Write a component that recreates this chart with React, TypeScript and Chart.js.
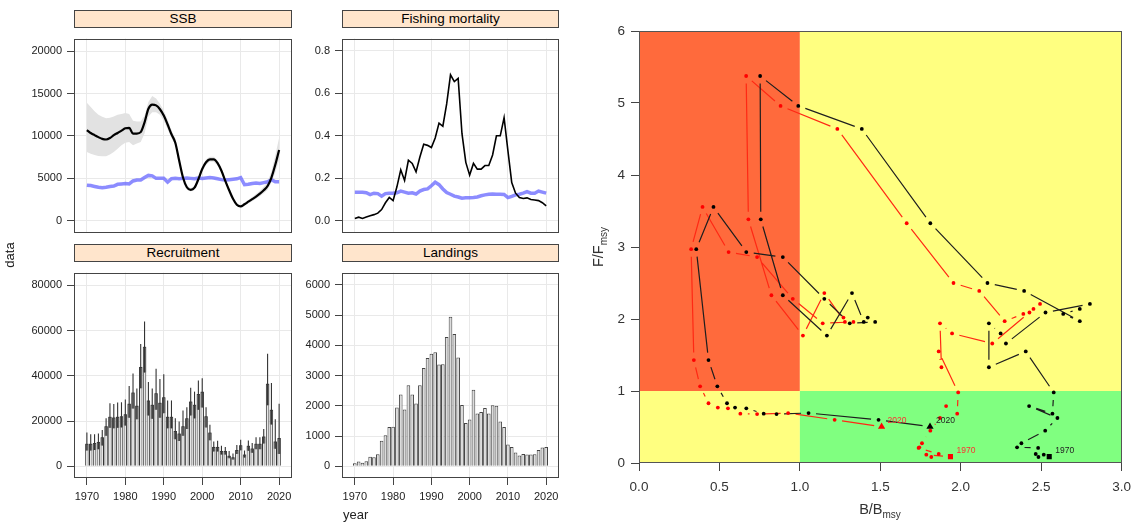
import React, { useEffect, useRef } from "react";
import { Chart, registerables } from "chart.js";
Chart.register(...registerables);

const FONT = "'Liberation Sans', Arial, Helvetica, sans-serif";

// ---------- data ----------
const YEARS = Array.from({ length: 51 }, (_, i) => 1970 + i);
const YEAR_TICKS = [1970, 1980, 1990, 2000, 2010, 2020];

const SSB = [10700, 10350, 10100, 9860, 9650, 9580, 9750, 10100, 10350, 10630,
  10900, 10950, 10280, 10280, 10450, 11600, 13200, 13700, 13600, 13150,
  12400, 11350, 10200, 9200, 7100, 5100, 3950, 3650, 3900, 4900,
  6100, 6900, 7250, 7250, 6800, 5900, 4700, 3600, 2600, 1900,
  1700, 1950, 2250, 2550, 2850, 3200, 3600, 4100, 5100, 6600, 8350];
const SSB_HI = [13900, 13400, 12900, 12500, 12250, 12100, 12150, 12300, 12500, 12600,
  12700, 12600, 11800, 11700, 11700, 12400, 14000, 14700, 14400, 13800,
  13000, 11900, 10700, 9700, 7400, 5300, 4150, 3850, 4100, 5150,
  6400, 7250, 7550, 7550, 7100, 6150, 4950, 3800, 2800, 2050,
  1850, 2150, 2450, 2800, 3150, 3550, 4000, 4600, 5800, 7700, 9800];
const SSB_LO = [8100, 7900, 7750, 7650, 7600, 7600, 7800, 8100, 8500, 8900,
  9200, 9300, 8900, 9100, 9300, 10300, 12300, 12800, 12800, 12500,
  11800, 10800, 9800, 8900, 6700, 4800, 3700, 3450, 3700, 4650,
  5800, 6600, 6950, 6950, 6500, 5650, 4450, 3400, 2400, 1750,
  1550, 1800, 2050, 2300, 2600, 2900, 3250, 3650, 4500, 5700, 7200];
const BMSY = [4200, 4150, 4050, 3950, 3900, 3950, 4050, 4100, 4300, 4350,
  4400, 4350, 4700, 4800, 4800, 5100, 5350, 5300, 5000, 5000,
  5000, 4550, 4950, 5000, 4950, 5000, 5050, 5000, 4950, 5050,
  5000, 5050, 5100, 5050, 4950, 4850, 4800, 4850, 4900, 4950,
  5100, 4250, 4300, 4400, 4450, 4400, 4500, 4600, 4850, 4600, 4600];

const FBAR = [0.011, 0.017, 0.011, 0.018, 0.024, 0.029, 0.036, 0.053, 0.085, 0.11,
  0.095, 0.16, 0.24, 0.19, 0.285, 0.27, 0.23, 0.30, 0.36, 0.355,
  0.345, 0.39, 0.46, 0.445, 0.55, 0.687, 0.655, 0.67, 0.41, 0.275,
  0.215, 0.27, 0.243, 0.243, 0.26, 0.26, 0.31, 0.40, 0.40, 0.485,
  0.33, 0.18, 0.13, 0.11, 0.105, 0.108, 0.10, 0.098, 0.095, 0.085, 0.07];
const FMSY = [0.134, 0.134, 0.134, 0.132, 0.123, 0.13, 0.128, 0.116, 0.128, 0.13,
  0.13, 0.132, 0.14, 0.135, 0.13, 0.132, 0.126, 0.14, 0.147, 0.15,
  0.165, 0.182, 0.17, 0.15, 0.133, 0.125, 0.116, 0.112, 0.106, 0.108,
  0.109, 0.11, 0.112, 0.118, 0.122, 0.125, 0.126, 0.125, 0.125, 0.124,
  0.109, 0.115, 0.122, 0.125, 0.13, 0.137, 0.13, 0.13, 0.14, 0.135, 0.13];

const REC = [10000, 10000, 10300, 10800, 12800, 17700, 21900, 21600, 21900, 22100,
  23000, 27700, 32600, 26800, 43900, 52800, 29100, 27200, 32300, 28100,
  30500, 21900, 21900, 15600, 14500, 17700, 21200, 28600, 27200, 31900,
  33000, 22100, 14900, 8600, 8600, 6800, 6800, 4700, 4000, 7200,
  9300, 5200, 9100, 7900, 10000, 10000, 13200, 36500, 25000, 11000, 12500];
const REC_HI = [14900, 14200, 14200, 14500, 16000, 21200, 27900, 27500, 28200, 28300,
  29500, 35500, 41000, 34400, 54000, 64000, 37200, 34400, 43100, 38600,
  40700, 29100, 29100, 21200, 19800, 24700, 26100, 34700, 33000, 37900,
  38900, 26100, 18400, 11000, 11300, 9100, 8600, 6800, 5700, 9400,
  11800, 7000, 11400, 10300, 12800, 12900, 16500, 49700, 36800, 20800, 27700];
const REC_LO = [7000, 7000, 7200, 7600, 9200, 13500, 17000, 16800, 17000, 17200,
  18000, 21500, 25500, 20800, 34500, 41500, 22500, 21000, 25000, 21500,
  23500, 16800, 16800, 12000, 11200, 13500, 16500, 22500, 21200, 25000,
  26000, 17200, 11500, 6600, 6600, 5200, 5200, 3600, 3000, 5500,
  7100, 3900, 6900, 6000, 7600, 7600, 10100, 27000, 18500, 7800, 5500];

const LANDINGS = [100, 160, 120, 170, 320, 300, 400, 850, 1030, 1300,
  1310, 1950, 2380, 1880, 2680, 2380, 2080, 2680, 3250, 3580,
  3720, 3770, 3370, 3380, 4280, 4950, 4380, 3600, 2030, 1430,
  1550, 2530, 1750, 1800, 1930, 1750, 2020, 2000, 1480, 1300,
  720, 640, 460, 360, 410, 390, 390, 400, 540, 620, 640];

const KOBE_F = [0.088, 0.115, 0.083, 0.125, 0.21, 0.218, 0.274, 0.449, 0.625, 0.79,
  0.685, 0.98, 1.55, 1.33, 1.94, 1.80, 1.66, 2.09, 2.21, 2.14,
  2.07, 1.97, 2.39, 2.50, 3.33, 4.64, 4.96, 5.375, 3.385, 2.33,
  1.77, 2.36, 1.96, 2.02, 1.96, 1.94, 2.28, 2.86, 2.93, 3.556,
  2.97, 1.43, 1.065, 0.83, 0.77, 0.76, 0.685, 0.68, 0.694, 0.60, 0.504];
const KOBE_B_BLACK = [2.55, 2.516, 2.483, 2.466, 2.481, 2.35, 2.377, 2.525, 2.601, 2.425,
  2.57, 2.578, 2.404, 2.175, 2.175, 2.248, 2.281, 2.527, 2.803, 2.74,
  2.637, 2.74, 2.394, 2.166, 1.811, 1.385, 0.99, 0.753, 0.757, 0.894,
  1.168, 1.324, 1.397, 1.422, 1.468, 1.31, 1.152, 0.894, 0.667, 0.463,
  0.356, 0.432, 0.487, 0.547, 0.597, 0.667, 0.775, 0.855, 1.054, 1.489, 1.809];
const KOBE_B_RED = [1.936, 1.786, 1.817, 1.863, 1.738, 1.742, 1.759, 1.811, 1.871, 1.909,
  1.978, 1.984, 1.863, 1.88, 1.871, 1.946, 2.196, 2.427, 2.493, 2.452,
  2.389, 2.273, 2.115, 1.955, 1.664, 1.233, 0.88, 0.666, 0.68, 0.823,
  1.019, 1.152, 1.28, 1.271, 1.333, 1.142, 0.956, 0.734, 0.557, 0.395,
  0.324, 0.341, 0.38, 0.432, 0.49, 0.553, 0.63, 0.734, 0.927, 1.216, 1.508];

const SSB_TICKS = [0, 5000, 10000, 15000, 20000];
const F_TICKS = [0, 0.2, 0.4, 0.6, 0.8];
const REC_TICKS = [0, 20000, 40000, 60000, 80000];
const LAND_TICKS = [0, 1000, 2000, 3000, 4000, 5000, 6000];
const KOBE_X_TICKS = [0, 0.5, 1, 1.5, 2, 2.5, 3];
const KOBE_Y_TICKS = [0, 1, 2, 3, 4, 5, 6];

// ---------- styling ----------
const GRID = "#e9e9e9";
const AXIS = "#444";
const BLUE = "rgba(95,95,255,0.72)";
const XMIN = 1966.65;
const XMAX = 2023.35;

const pairs = (xs: number[], ys: number[]) => xs.map((x, i) => ({ x, y: ys[i] }));

const framePlugin = (color: string) => ({
  id: "frame",
  afterDraw(chart: any) {
    const { left, top, right, bottom } = chart.chartArea;
    const ctx = chart.ctx;
    ctx.save();
    ctx.strokeStyle = color;
    ctx.lineWidth = 1;
    ctx.strokeRect(Math.round(left) + 0.5, Math.round(top) + 0.5, Math.round(right - left) - 1, Math.round(bottom - top) - 1);
    ctx.restore();
  },
});

const errorBarPlugin = (xs: number[], mid: number[], lo: number[], hi: number[]) => ({
  id: "errorBars",
  afterDatasetsDraw(chart: any) {
    const { ctx } = chart;
    const sx = chart.scales.x, sy = chart.scales.y;
    ctx.save();
    xs.forEach((yr, i) => {
      const px = sx.getPixelForValue(yr);
      const pm = sy.getPixelForValue(mid[i]);
      const pl = sy.getPixelForValue(lo[i]);
      const ph = sy.getPixelForValue(hi[i]);
      ctx.fillStyle = "rgba(70,70,70,0.55)";
      ctx.fillRect(px - 1.6, pm, 3.2, pl - pm);
      ctx.strokeStyle = "#333";
      ctx.lineWidth = 1.1;
      ctx.beginPath();
      ctx.moveTo(px, ph);
      ctx.lineTo(px, pl);
      ctx.stroke();
    });
    ctx.restore();
  },
});

const kobeZonesPlugin = {
  id: "kobeZones",
  beforeDatasetsDraw(chart: any) {
    const { ctx } = chart;
    const x = chart.scales.x, y = chart.scales.y;
    const x0 = x.getPixelForValue(0), x1 = x.getPixelForValue(1), x3 = x.getPixelForValue(3);
    const y0 = y.getPixelForValue(0), y1 = y.getPixelForValue(1), y6 = y.getPixelForValue(6);
    ctx.save();
    ctx.fillStyle = "#FF6A3C";
    ctx.fillRect(x0, y6, x1 - x0, y1 - y6);
    ctx.fillStyle = "#FFFF80";
    ctx.fillRect(x1, y6, x3 - x1, y1 - y6);
    ctx.fillRect(x0, y1, x1 - x0, y0 - y1);
    ctx.fillStyle = "#80FF80";
    ctx.fillRect(x1, y1, x3 - x1, y0 - y1);
    ctx.restore();
  },
};

const gapLinesPlugin = (specs: { index: number; color: string; width: number }[], gap: number) => ({
  id: "gapLines",
  beforeDatasetsDraw(chart: any) {
    const { ctx } = chart;
    ctx.save();
    specs.forEach((s) => {
      const pts = chart.getDatasetMeta(s.index).data;
      ctx.strokeStyle = s.color;
      ctx.lineWidth = s.width;
      ctx.beginPath();
      for (let i = 0; i < pts.length - 1; i++) {
        const a = pts[i], b = pts[i + 1];
        const dx = b.x - a.x, dy = b.y - a.y;
        const len = Math.hypot(dx, dy);
        if (len <= 2 * gap) continue;
        const ux = dx / len, uy = dy / len;
        ctx.moveTo(a.x + ux * gap, a.y + uy * gap);
        ctx.lineTo(b.x - ux * gap, b.y - uy * gap);
      }
      ctx.stroke();
    });
    ctx.restore();
  },
});

const yearLabelPlugin = (specs: { index: number; color: string }[]) => ({
  id: "yearLabels",
  afterDatasetsDraw(chart: any) {
    const { ctx } = chart;
    ctx.save();
    ctx.font = `8.5px ${FONT}`;
    ctx.textBaseline = "middle";
    ctx.textAlign = "left";
    specs.forEach((s) => {
      const pts = chart.getDatasetMeta(s.index).data;
      const first = pts[0], last = pts[pts.length - 1];
      ctx.fillStyle = s.color;
      ctx.fillText(String(YEARS[0]), first.x + 6, first.y - 6.5);
      ctx.fillText(String(YEARS[YEARS.length - 1]), last.x + 6, last.y - 6.5);
    });
    ctx.restore();
  },
});

const baseOptions = {
  animation: false,
  responsive: false,
  events: [],
  plugins: { legend: { display: false }, tooltip: { enabled: false } },
};

const xYearScale = (showLabels: boolean) => ({
  type: "linear",
  min: XMIN,
  max: XMAX,
  offset: false,
  afterBuildTicks: (s: any) => {
    s.ticks = YEAR_TICKS.map((v) => ({ value: v }));
  },
  afterFit: (s: any) => {
    s.height = showLabels ? 47 : 0;
  },
  grid: { color: GRID, lineWidth: 1, offset: false, drawTicks: showLabels, tickLength: 7, tickColor: AXIS },
  border: { display: false },
  ticks: {
    display: showLabels,
    color: "#222",
    font: { family: FONT, size: 11 },
    padding: 5,
    maxRotation: 0,
    autoSkip: false,
    callback: (v: any) => String(v),
  },
});

const yScale = (min: number, max: number, ticks: number[], fmt: (v: number) => string) => ({
  type: "linear",
  min,
  max,
  afterBuildTicks: (s: any) => {
    s.ticks = ticks.map((v) => ({ value: v }));
  },
  afterFit: (s: any) => {
    s.width = 74;
  },
  grid: { color: GRID, lineWidth: 1, tickLength: 7, tickColor: AXIS },
  border: { display: false },
  ticks: { color: "#222", font: { family: FONT, size: 11 }, padding: 5, autoSkip: false, callback: (v: any) => fmt(Number(v)) },
});

const ssbConfig = () => ({
  type: "line",
  data: {
    datasets: [
      { data: pairs(YEARS, SSB_HI), borderColor: "rgba(0,0,0,0)", borderWidth: 0, pointRadius: 0, fill: "+1", backgroundColor: "#e2e2e2", order: 5 },
      { data: pairs(YEARS, SSB_LO), borderColor: "rgba(0,0,0,0)", borderWidth: 0, pointRadius: 0, fill: false, order: 5 },
      { data: pairs(YEARS, BMSY), borderColor: BLUE, borderWidth: 3.5, pointRadius: 0, fill: false, order: 2 },
      { data: pairs(YEARS, SSB), borderColor: "#000", borderWidth: 2.2, pointRadius: 0, fill: false, cubicInterpolationMode: "monotone", order: 1 },
    ],
  },
  options: {
    ...baseOptions,
    layout: { padding: { right: 5 } },
    scales: { x: xYearScale(false), y: yScale(-1368, 21474, SSB_TICKS, (v) => String(v)) },
  },
  plugins: [framePlugin(AXIS)],
});

const fConfig = () => ({
  type: "line",
  data: {
    datasets: [
      { data: pairs(YEARS, FMSY), borderColor: BLUE, borderWidth: 3.5, pointRadius: 0, fill: false, order: 2 },
      { data: pairs(YEARS, FBAR), borderColor: "#000", borderWidth: 1.6, pointRadius: 0, fill: false, order: 1 },
    ],
  },
  options: {
    ...baseOptions,
    layout: { padding: { right: 6 } },
    scales: { x: xYearScale(false), y: yScale(-0.0546, 0.8575, F_TICKS, (v) => v.toFixed(1)) },
  },
  plugins: [framePlugin(AXIS)],
});

const recConfig = () => ({
  type: "bar",
  data: {
    datasets: [
      {
        data: pairs(YEARS, REC),
        backgroundColor: "#e6e6e6",
        borderColor: "#333",
        borderWidth: 1,
        barPercentage: 1,
        categoryPercentage: 0.9,
      },
    ],
  },
  options: {
    ...baseOptions,
    layout: { padding: { right: 5 } },
    scales: { x: xYearScale(true), y: yScale(-5141, 85560, REC_TICKS, (v) => String(v)) },
  },
  plugins: [errorBarPlugin(YEARS, REC, REC_LO, REC_HI), framePlugin(AXIS)],
});

const landConfig = () => ({
  type: "bar",
  data: {
    datasets: [
      {
        data: pairs(YEARS, LANDINGS),
        backgroundColor: "#dcdcdc",
        borderColor: "#444",
        borderWidth: 1,
        barPercentage: 1,
        categoryPercentage: 0.95,
      },
    ],
  },
  options: {
    ...baseOptions,
    layout: { padding: { right: 6 } },
    scales: { x: xYearScale(true), y: yScale(-385, 6407, LAND_TICKS, (v) => String(v)) },
  },
  plugins: [framePlugin(AXIS)],
});

const pointStyleFn = (ctx: any) => {
  const n = ctx.dataset.data.length;
  if (ctx.dataIndex === 0) return "rect";
  if (ctx.dataIndex === n - 1) return "triangle";
  return "circle";
};
const pointRadiusFn = (ctx: any) => {
  const n = ctx.dataset.data.length;
  if (ctx.dataIndex === 0) return 3.6;
  if (ctx.dataIndex === n - 1) return 4.2;
  return 1.9;
};

const kobeConfig = () => ({
  type: "scatter",
  data: {
    datasets: [
      {
        data: pairs(KOBE_B_BLACK, KOBE_F),
        backgroundColor: "#000",
        borderColor: "#000",
        borderWidth: 0,
        pointStyle: pointStyleFn,
        pointRadius: pointRadiusFn,
        showLine: false,
      },
      {
        data: pairs(KOBE_B_RED, KOBE_F),
        backgroundColor: "#ff0000",
        borderColor: "#ff0000",
        borderWidth: 0,
        pointStyle: pointStyleFn,
        pointRadius: pointRadiusFn,
        showLine: false,
      },
    ],
  },
  options: {
    ...baseOptions,
    layout: { padding: { top: 31, right: 0, left: 0, bottom: 0 } },
    scales: {
      x: {
        type: "linear",
        min: 0,
        max: 3,
        afterBuildTicks: (s: any) => {
          s.ticks = KOBE_X_TICKS.map((v) => ({ value: v }));
        },
        afterFit: (s: any) => {
          s.height = 62;
        },
        grid: { drawOnChartArea: false, tickLength: 8, tickColor: AXIS },
        border: { display: false },
        ticks: { color: "#333", font: { family: FONT, size: 13.5 }, padding: 8, maxRotation: 0, autoSkip: false, callback: (v: any) => Number(v).toFixed(1) },
      },
      y: {
        type: "linear",
        min: 0,
        max: 6,
        afterBuildTicks: (s: any) => {
          s.ticks = KOBE_Y_TICKS.map((v) => ({ value: v }));
        },
        afterFit: (s: any) => {
          s.width = 79;
        },
        grid: { drawOnChartArea: false, tickLength: 8, tickColor: AXIS },
        border: { display: false },
        ticks: { color: "#333", font: { family: FONT, size: 13.5 }, padding: 6, autoSkip: false, callback: (v: any) => String(v) },
      },
    },
  },
  plugins: [
    kobeZonesPlugin,
    gapLinesPlugin(
      [
        { index: 1, color: "rgb(255,40,20)", width: 1.2 },
        { index: 0, color: "#1e1e1e", width: 1.2 },
      ],
      7.5
    ),
    yearLabelPlugin([
      { index: 1, color: "#ff3030" },
      { index: 0, color: "#222" },
    ]),
    framePlugin("#555"),
  ],
});

function ChartBox(props: { left: number; top: number; width: number; height: number; make: () => any }) {
  const ref = useRef<HTMLCanvasElement>(null);
  useEffect(() => {
    const chart = new Chart(ref.current as HTMLCanvasElement, props.make());
    return () => chart.destroy();
  }, []);
  return (
    <canvas
      ref={ref}
      width={props.width}
      height={props.height}
      style={{ position: "absolute", left: props.left, top: props.top, width: props.width, height: props.height }}
    />
  );
}

function Strip(props: { left: number; top: number; width: number; height: number; text: string }) {
  return (
    <div
      style={{
        position: "absolute",
        left: props.left,
        top: props.top,
        width: props.width,
        height: props.height,
        boxSizing: "border-box",
        border: `1px solid ${AXIS}`,
        background: "#ffe5cc",
        fontFamily: FONT,
        fontSize: 13.5,
        lineHeight: `${props.height - 2}px`,
        textAlign: "center",
        color: "#000",
      }}
    >
      {props.text}
    </div>
  );
}

export default function App() {
  return (
    <div style={{ position: "fixed", left: 0, top: 0, width: 1131, height: 525, background: "#fff", overflow: "hidden" }}>
      <ChartBox left={0} top={27} width={297} height={217} make={ssbConfig} />
      <ChartBox left={268} top={27} width={297} height={217} make={fConfig} />
      <ChartBox left={0} top={261} width={297} height={264} make={recConfig} />
      <ChartBox left={268} top={261} width={297} height={264} make={landConfig} />
      <Strip left={74} top={10} width={218} height={18} text="SSB" />
      <Strip left={342} top={10} width={217} height={18} text="Fishing mortality" />
      <Strip left={74} top={244} width={218} height={18} text="Recruitment" />
      <Strip left={342} top={244} width={217} height={18} text="Landings" />
      <div
        style={{
          position: "absolute",
          left: 10 - 30,
          top: 255 - 8,
          width: 60,
          height: 16,
          lineHeight: "16px",
          textAlign: "center",
          transform: "rotate(-90deg)",
          fontFamily: FONT,
          fontSize: 13,
          color: "#222",
        }}
      >
        data
      </div>
      <div style={{ position: "absolute", left: 343, top: 507, lineHeight: "15px", fontFamily: FONT, fontSize: 13, color: "#222" }}>year</div>

      <ChartBox left={560} top={0} width={579} height={525} make={kobeConfig} />
      <div
        style={{
          position: "absolute",
          left: 830,
          top: 500,
          width: 100,
          textAlign: "center",
          fontFamily: FONT,
          fontSize: 14.5,
          lineHeight: "18px",
          color: "#333",
        }}
      >
        B/B<sub style={{ fontSize: 10 }}>msy</sub>
      </div>
      <div
        style={{
          position: "absolute",
          left: 598 - 50,
          top: 247 - 10,
          width: 100,
          height: 20,
          lineHeight: "20px",
          textAlign: "center",
          transform: "rotate(-90deg)",
          fontFamily: FONT,
          fontSize: 14.5,
          color: "#333",
        }}
      >
        F/F<sub style={{ fontSize: 10 }}>msy</sub>
      </div>
    </div>
  );
}
